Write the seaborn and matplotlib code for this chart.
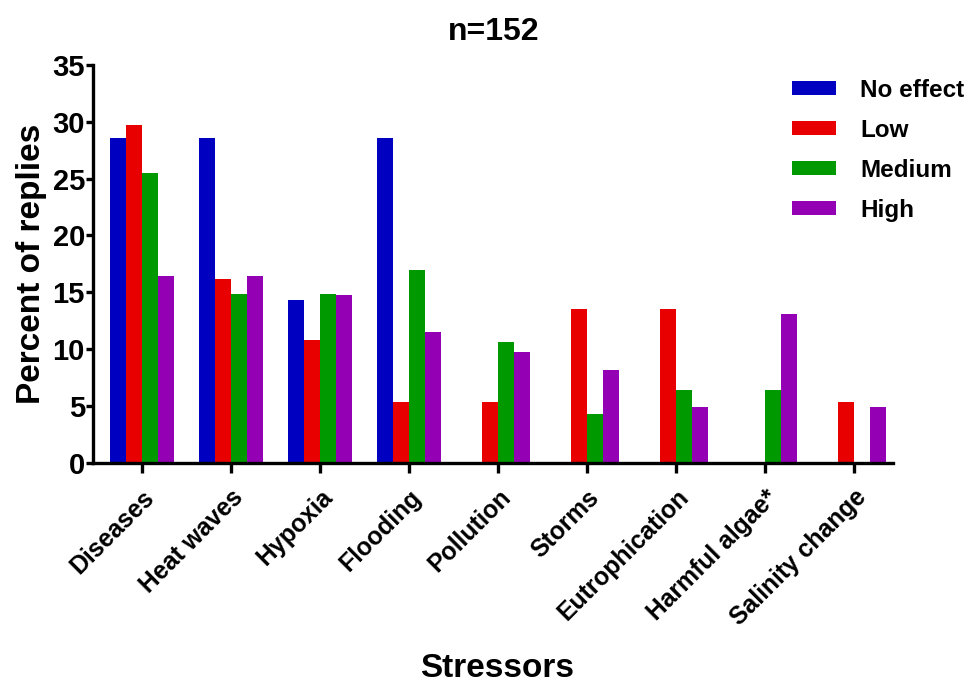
import pandas as pd
import seaborn as sns
import matplotlib.pyplot as plt

# values (percent of replies)
stressors = ["Diseases", "Heat waves", "Hypoxia", "Flooding", "Pollution",
             "Storms", "Eutrophication", "Harmful algae*", "Salinity change"]
levels = ["No effect", "Low", "Medium", "High"]
no_effect = [28.6, 28.6, 14.3, 28.6, 0, 0, 0, 0, 0]
low = [29.7, 16.2, 10.8, 5.4, 5.4, 13.5, 13.5, 0, 5.4]
medium = [25.5, 14.9, 14.9, 17.0, 10.6, 4.3, 6.4, 6.4, 0]
high = [16.4, 16.4, 14.8, 11.5, 9.8, 8.2, 4.9, 13.1, 4.9]
colors = ["#0000C0", "#E80000", "#009A00", "#9400B4"]

rows = []
for lev, vals in zip(levels, [no_effect, low, medium, high]):
    for s, v in zip(stressors, vals):
        rows.append({"Stressor": s, "Effect": lev, "Percent": v})
df = pd.DataFrame(rows)

sns.set_style("ticks")
plt.rcParams["font.family"] = ["Liberation Sans", "DejaVu Sans"]
plt.rcParams["font.weight"] = "bold"
plt.rcParams["text.color"] = "black"
plt.rcParams["axes.labelcolor"] = "black"
plt.rcParams["xtick.color"] = "black"
plt.rcParams["ytick.color"] = "black"

fig = plt.figure(figsize=(9.71, 6.82), dpi=100)
ax = fig.add_axes([0.096, 0.321, 0.824, 0.584])

sns.barplot(data=df, x="Stressor", y="Percent", hue="Effect", order=stressors,
            hue_order=levels, palette=colors, saturation=1, width=0.72,
            linewidth=0, ax=ax)

ax.set_ylim(0, 35)
ax.set_yticks(range(0, 36, 5))
ax.set_xlim(-0.55, 8.44)
sns.despine(ax=ax)
for sp in ["left", "bottom"]:
    ax.spines[sp].set_linewidth(2.4)
    ax.spines[sp].set_color("black")
ax.tick_params(axis="both", width=2.4, color="black", direction="out")
ax.tick_params(axis="y", labelsize=21, pad=1, length=5)
ax.tick_params(axis="x", labelsize=17.8, pad=9, length=7)
plt.setp(ax.get_xticklabels(), rotation=45, ha="right", va="top",
         rotation_mode="anchor", fontweight="bold")
plt.setp(ax.get_yticklabels(), fontweight="bold")

ax.set_title("n=152", fontsize=23, fontweight="bold", pad=18)
ax.set_ylabel("Percent of replies", fontsize=24, fontweight="bold")
ax.set_xlabel("Stressors", fontsize=24, fontweight="bold")
ax.yaxis.set_label_coords(-0.058, 0.5)
ax.xaxis.set_label_coords(0.505, -0.476)

ax.legend(loc="upper left", bbox_to_anchor=(0.806, 0.899),
          bbox_transform=fig.transFigure, frameon=False, fontsize=17.5,
          handlelength=1.8, handleheight=0.55, handletextpad=1.0,
          labelspacing=0.7, borderaxespad=0)

fig.savefig("out.png", dpi=100)
